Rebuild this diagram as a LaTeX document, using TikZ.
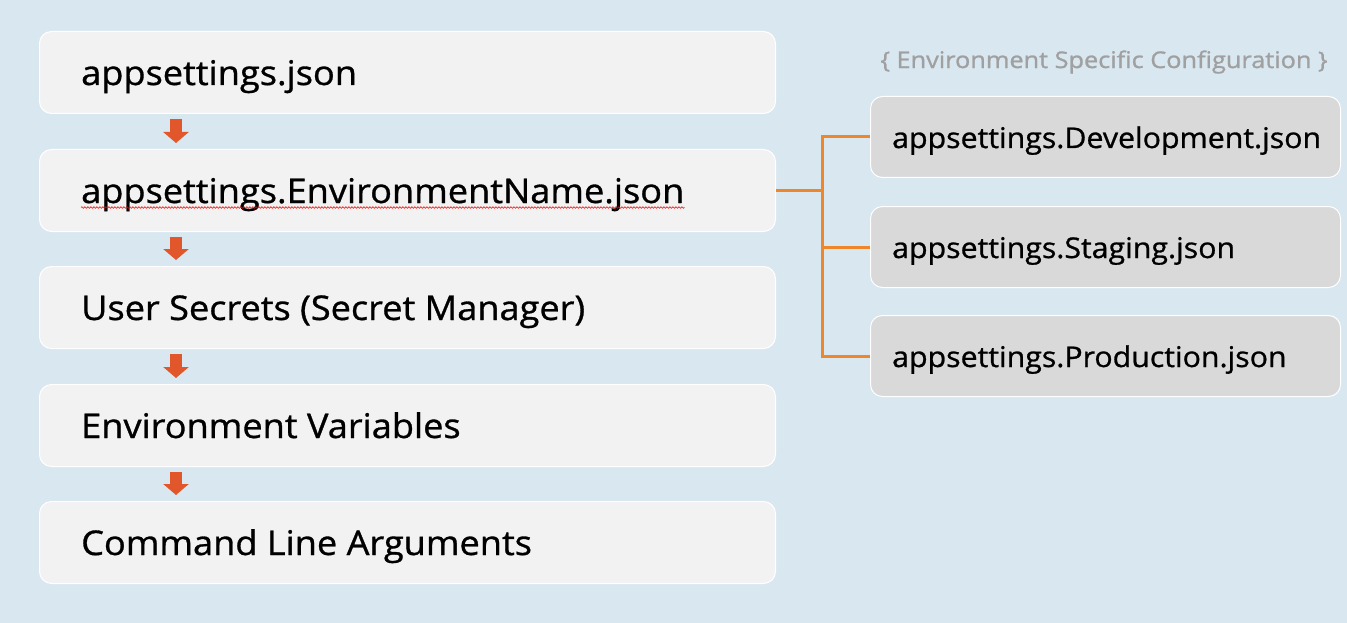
\documentclass[tikz,border=0pt]{standalone}
\usepackage{fontspec}
\setmainfont{Open Sans}[FakeStretch=1.063, FakeBold=0.9]
\newfontfamily\notefont{Open Sans}[FakeStretch=1.1, FakeBold=1]
\usetikzlibrary{arrows.meta,decorations.pathmorphing,calc}
\definecolor{bg}{RGB}{216,231,240}
\definecolor{boxl}{RGB}{242,242,242}
\definecolor{boxr}{RGB}{217,217,217}
\definecolor{arr}{RGB}{226,86,43}
\definecolor{conn}{RGB}{240,134,42}
\definecolor{note}{RGB}{160,160,160}
\tikzset{
  lbox/.style={draw=white, line width=1pt, fill=boxl, rounded corners=12pt,
    minimum width=736pt, minimum height=82pt, anchor=north west, inner sep=0pt},
  rbox/.style={draw=white, line width=1pt, fill=boxr, rounded corners=12pt,
    minimum width=470pt, minimum height=81pt, anchor=north west, inner sep=0pt},
  ltext/.style={anchor=base west, inner sep=0pt, font=\fontsize{34}{38}\selectfont, text=black},
  rtext/.style={anchor=base west, inner sep=0pt, font=\fontsize{28.5}{32}\selectfont, text=black},
  flow/.style={draw=arr, line width=12pt, -{Triangle[width=25pt,length=11pt]}, shorten <=5pt, shorten >=6pt},
  link/.style={draw=conn, line width=3pt},
}
\begin{document}
\begin{tikzpicture}[x=1pt,y=-1pt]
\fill[bg] (0,0) rectangle (1347,623);
\useasboundingbox (0,0) rectangle (1347,623);
% left boxes
\node[lbox] (b1) at (39,31) {};
\node[lbox] (b2) at (39,149) {};
\node[lbox] (b3) at (39,266) {};
\node[lbox] (b4) at (39,384) {};
\node[lbox] (b5) at (39,501) {};
\node[ltext] (t1) at ($(b1.north west)+(42,54)$) {appsettings.json};
\node[ltext] (t2) at ($(b2.north west)+(42,54)$) {appsettings.EnvironmentName.json};
\node[ltext] (t3) at ($(b3.north west)+(42,54)$) {User Secrets (Secret Manager)};
\node[ltext] (t4) at ($(b4.north west)+(42,54)$) {Environment Variables};
\node[ltext] (t5) at ($(b5.north west)+(42,54)$) {Command Line Arguments};
\draw[red, line width=0.6pt, decorate, decoration={snake, amplitude=0.8pt, segment length=3pt}]
  ($(t2.base west)+(0,4.5)$) -- ($(t2.base east)+(0,4.5)$);
% arrows
\foreach \a/\b in {b1/b2,b2/b3,b3/b4,b4/b5}
  \draw[flow] ($(\a.south west)+(137,0)$) -- ($(\b.north west)+(137,0)$);
% right boxes
\node[rbox] (r1) at (870,96) {};
\node[rbox] (r2) at (870,206) {};
\node[rbox] (r3) at (870,315) {};
\node[rtext] at ($(r1.north west)+(22,52)$) {appsettings.Development.json};
\node[rtext] at ($(r2.north west)+(22,52)$) {appsettings.Staging.json};
\node[rtext] at ($(r3.north west)+(22,52)$) {appsettings.Production.json};
\node[font=\notefont\fontsize{23}{27}\selectfont, text=note, inner sep=0pt] (note) at (1104,62) {\{ Environment Specific Configuration \}};
% connectors
\coordinate (j) at (822,0 |- b2.east);
\draw[link] (b2.east) -- (j);
\draw[link] (r1.west) -| (j);
\draw[link] (r3.west) -| (j);
\draw[link] (r2.west) -- (r2.west -| j);
\end{tikzpicture}
\end{document}
